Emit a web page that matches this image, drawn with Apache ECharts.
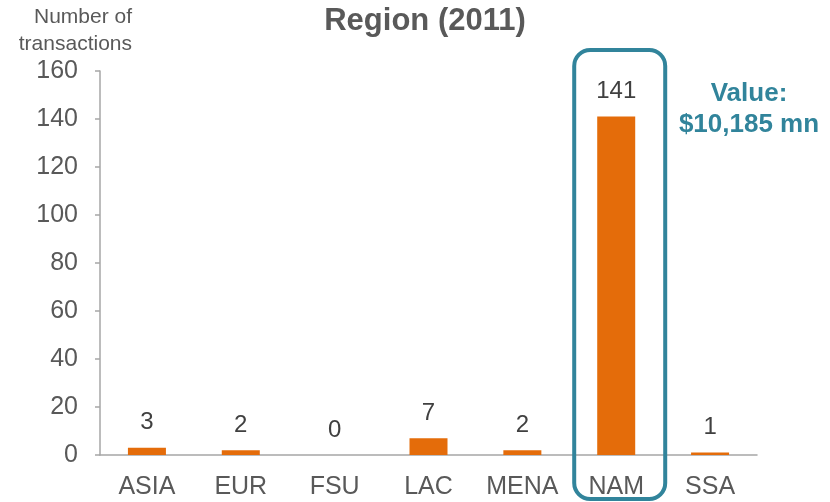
<!DOCTYPE html>
<html>
<head>
<meta charset="utf-8">
<script src="https://cdn.jsdelivr.net/npm/echarts@6/dist/echarts.min.js"></script>
<style>
  html, body { margin: 0; padding: 0; background: #fff; }
  #main { width: 830px; height: 502px; }
</style>
</head>
<body>
<div id="main"></div>
<script>
  // regions and number of transactions (2011)
  const regions = ['ASIA', 'EUR', 'FSU', 'LAC', 'MENA', 'NAM', 'SSA']
  const transactions = [3, 2, 0, 7, 2, 141, 1]
  const yTicks = { min: 0, max: 160, interval: 20 }
  const highlight = 'NAM'
  const valueNote = ['Value:', '$10,185 mn']

  const font = 'Liberation Sans, Arial, sans-serif'
  const grey = '#595959'
  const teal = '#31849B'

  let myChart = echarts.init(document.getElementById('main'))

  let option = {
    animation: false,
    title: {
      text: 'Region (2011)',
      left: 420,
      top: 1,
      textAlign: 'center',
      textStyle: { fontFamily: font, fontSize: 31, fontWeight: 'bold', color: grey }
    },
    grid: { left: 100, right: 73, top: 71, bottom: 47 },
    xAxis: {
      type: 'category',
      data: regions,
      axisLine: { lineStyle: { color: '#A6A6A6', width: 1.5 } },
      axisTick: { length: 7, lineStyle: { color: '#A6A6A6', width: 1.5 } },
      axisLabel: { interval: 0, hideOverlap: false, fontFamily: font, fontSize: 25, color: grey, margin: 20 }
    },
    yAxis: {
      type: 'value',
      min: yTicks.min,
      max: yTicks.max,
      interval: yTicks.interval,
      splitLine: { show: false },
      axisLine: { show: true, lineStyle: { color: '#A6A6A6', width: 1.5 } },
      axisTick: { show: true, length: 5, lineStyle: { color: '#A6A6A6', width: 1.5 } },
      axisLabel: { fontFamily: font, fontSize: 25, color: grey, margin: 22 }
    },
    series: [
      {
        type: 'bar',
        data: transactions,
        barWidth: 38,
        itemStyle: { color: '#E46C0A' },
        label: {
          show: true,
          position: 'top',
          distance: 13,
          fontFamily: font,
          fontSize: 24,
          color: '#404040'
        }
      }
    ]
  }

  myChart.setOption(option)

  // annotation: box round the highlighted bar, value note, axis name
  let cx = myChart.convertToPixel({ xAxisIndex: 0 }, highlight)
  myChart.setOption({
    graphic: [
      {
        type: 'rect',
        shape: { x: cx - 42, y: 50, width: 91, height: 449, r: 16 },
        style: { fill: 'none', stroke: teal, lineWidth: 4 },
        z: 10
      },
      {
        type: 'text',
        x: 749,
        y: 78,
        style: {
          text: valueNote.join('\n'),
          font: 'bold 26px ' + font,
          fill: teal,
          textAlign: 'center',
          lineHeight: 31
        }
      },
      {
        type: 'text',
        x: 132,
        y: 4,
        style: {
          text: 'Number of\ntransactions',
          font: '21px ' + font,
          fill: grey,
          textAlign: 'right',
          lineHeight: 27
        }
      }
    ]
  })
</script>
</body>
</html>
